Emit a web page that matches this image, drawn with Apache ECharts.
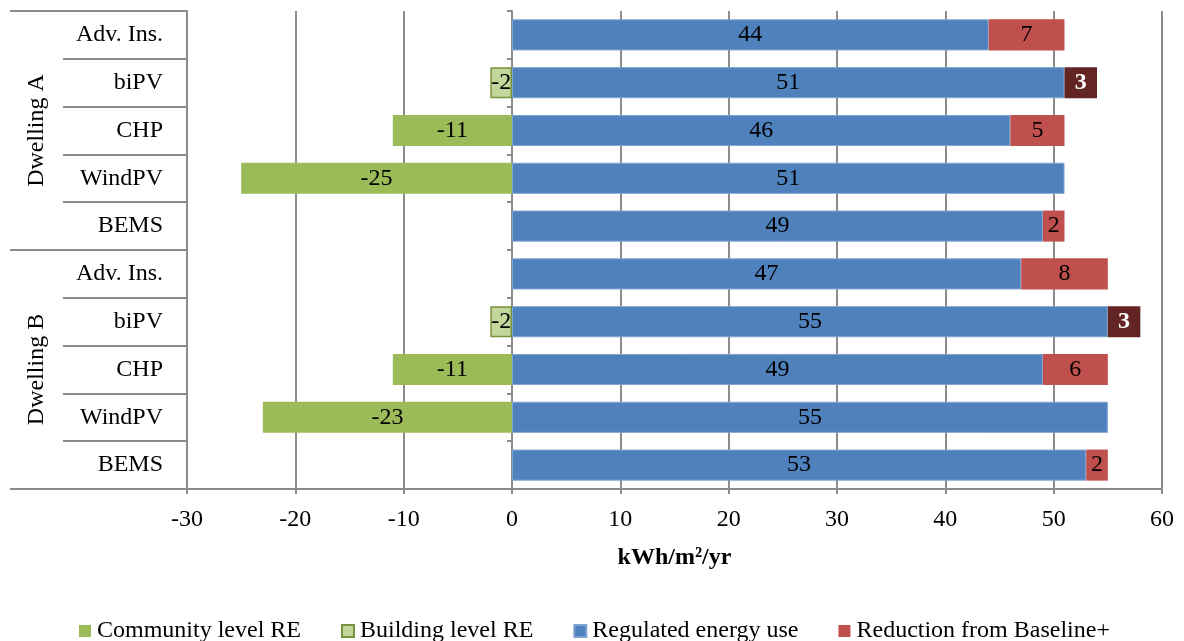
<!DOCTYPE html>
<html>
<head>
<meta charset="utf-8">
<script src="https://cdn.jsdelivr.net/npm/echarts@6/dist/echarts.min.js"></script>
<style>html,body{margin:0;padding:0;background:#fff}#c{width:1184px;height:641px}</style>
</head>
<body>
<div id="c"></div>
<script>
var groups = ['Dwelling A', 'Dwelling B'];
var categories = ['Adv. Ins.', 'biPV', 'CHP', 'WindPV', 'BEMS', 'Adv. Ins.', 'biPV', 'CHP', 'WindPV', 'BEMS'];
var communityRE = [null, null, -11, -25, null, null, null, -11, -23, null];
var buildingRE  = [null, -2, null, null, null, null, -2, null, null, null];
var regulated   = [44, 51, 46, 51, 49, 47, 55, 49, 55, 53];
var reduction   = [7, 3, 5, null, 2, 8, 3, 6, null, 2];
var xTicks = { min: -30, max: 60, interval: 10 };

var FONT = 'Liberation Serif';
var FS = 24;
var GRAY = '#8c8c8c';

var reductionData = reduction.map(function (v, i) {
  if (categories[i] === 'biPV') {
    return { value: v, itemStyle: { color: '#632523' }, label: { color: '#fff', fontWeight: 'bold' } };
  }
  return v;
});

var lbl = { show: true, position: 'inside', color: '#000', fontFamily: FONT, fontSize: FS,
  formatter: function (p) { return p.value == null ? '' : String(p.value); } };

var chart = echarts.init(document.getElementById('c'), null, { renderer: 'canvas' });
chart.setOption({
  animation: false,
  textStyle: { fontFamily: FONT },
  grid: { left: 187, right: 22, top: 11, bottom: 152, containLabel: false },
  legend: {
    top: 614, left: 74, icon: 'rect', itemWidth: 12, itemHeight: 12, itemGap: 40,
    textStyle: { fontFamily: FONT, fontSize: FS, color: '#000', padding: [0, 0, 0, 1] },
    data: ['Community level RE', 'Building level RE', 'Regulated energy use', 'Reduction from Baseline+']
  },
  xAxis: {
    type: 'value', min: xTicks.min, max: xTicks.max, interval: xTicks.interval,
    name: 'kWh/m²/yr', nameLocation: 'middle', nameGap: 57,
    nameTextStyle: { fontFamily: FONT, fontSize: FS, fontWeight: 'bold', color: '#000' },
    axisLine: { show: true, lineStyle: { color: GRAY, width: 2 } },
    axisTick: { show: true, length: 5, lineStyle: { color: GRAY, width: 2 } },
    axisLabel: { margin: 19, fontFamily: FONT, fontSize: FS, color: '#000' },
    splitLine: { show: true, lineStyle: { color: GRAY, width: 2 } }
  },
  yAxis: [
    {
      type: 'category', inverse: true, position: 'left', data: categories,
      axisLine: { show: true, onZero: false, lineStyle: { color: GRAY, width: 2 } },
      axisTick: { show: true, length: 124, lineStyle: { color: GRAY, width: 2 } },
      axisLabel: { margin: 24, fontFamily: FONT, fontSize: FS, color: '#000' },
      splitLine: { show: false }
    },
    {
      type: 'category', inverse: true, position: 'left', data: categories,
      axisLine: { show: true, onZero: true, lineStyle: { color: GRAY, width: 2 } },
      axisTick: { show: true, length: 5, lineStyle: { color: GRAY, width: 2 } },
      axisLabel: { show: false },
      splitLine: { show: false }
    },
    {
      type: 'category', inverse: true, position: 'left', data: groups,
      axisLine: { show: false, onZero: false },
      axisTick: { show: true, length: 177, lineStyle: { color: GRAY, width: 2 } },
      axisLabel: { rotate: 90, margin: 138, fontFamily: FONT, fontSize: FS, color: '#000' },
      splitLine: { show: false }
    }
  ],
  series: [
    { name: 'Community level RE', type: 'bar', stack: 's', yAxisIndex: 0, barCategoryGap: '35%',
      data: communityRE, itemStyle: { color: '#9BBB59' }, label: lbl },
    { name: 'Building level RE', type: 'bar', stack: 's', yAxisIndex: 0,
      data: buildingRE, itemStyle: { color: '#C3D69B', borderColor: '#77933C', borderWidth: 1.5 }, label: lbl },
    { name: 'Regulated energy use', type: 'bar', stack: 's', yAxisIndex: 0,
      data: regulated, itemStyle: { color: '#4F81BD', borderColor: '#7FA3D0', borderWidth: 1 }, label: lbl },
    { name: 'Reduction from Baseline+', type: 'bar', stack: 's', yAxisIndex: 0,
      data: reductionData, itemStyle: { color: '#C0504D' }, label: lbl }
  ]
});
</script>
</body>
</html>
